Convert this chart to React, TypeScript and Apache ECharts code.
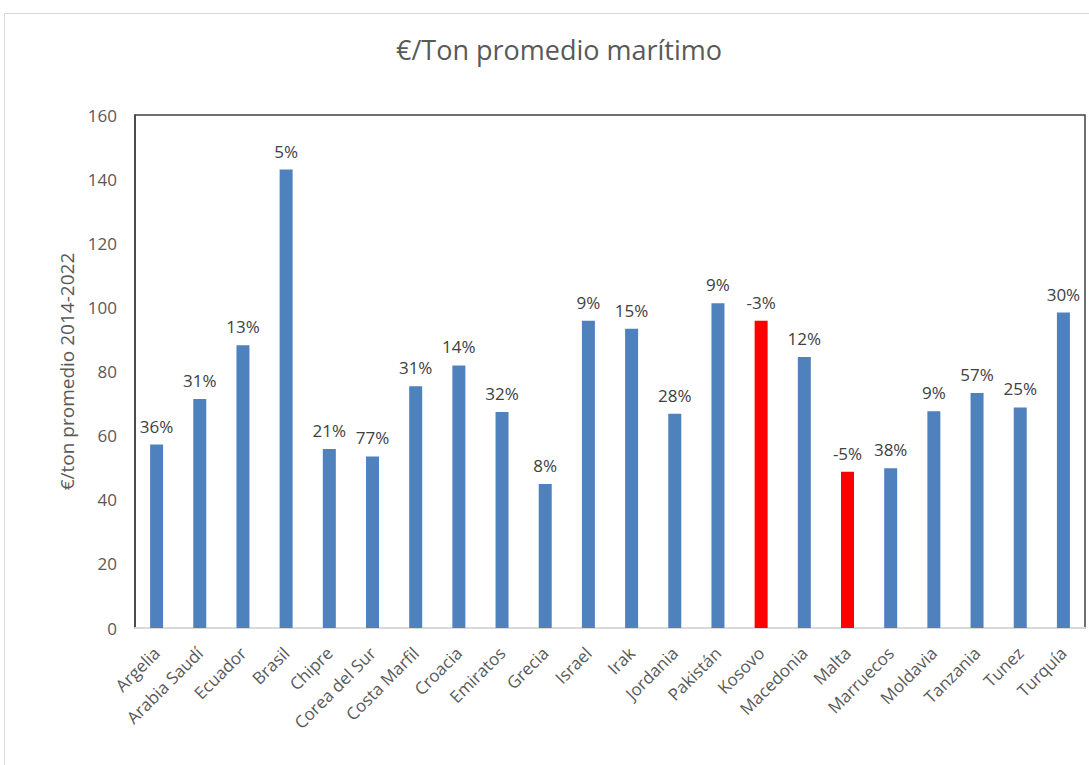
import React, { useEffect, useRef } from "react";
import * as echarts from "echarts";

const categories = [
  "Argelia", "Arabia Saudí", "Ecuador", "Brasil", "Chipre", "Corea del Sur",
  "Costa Marfil", "Croacia", "Emiratos", "Grecia", "Israel", "Irak",
  "Jordania", "Pakistán", "Kosovo", "Macedonia", "Malta", "Marruecos",
  "Moldavia", "Tanzania", "Tunez", "Turquía",
];
const values = [
  57.2, 71.4, 88.2, 143.0, 55.8, 53.5, 75.4, 81.9, 67.4, 44.9, 95.8, 93.3,
  66.8, 101.3, 95.8, 84.5, 48.7, 49.8, 67.6, 73.3, 68.8, 98.4,
];
const changeLabels = [
  "36%", "31%", "13%", "5%", "21%", "77%", "31%", "14%", "32%", "8%", "9%", "15%",
  "28%", "9%", "-3%", "12%", "-5%", "38%", "9%", "57%", "25%", "30%",
];
const highlighted = ["Kosovo", "Malta"];
const yTicks = { min: 0, max: 160, interval: 20 };

const FONT = "Open Sans";

export default function App() {
  const ref = useRef<HTMLDivElement>(null);
  useEffect(() => {
    document.body.style.margin = "0";
    const chart = echarts.init(ref.current!, undefined, { renderer: "svg" });
    chart.setOption({
      animation: false,
      backgroundColor: "#ffffff",
      textStyle: { fontFamily: FONT },
      title: {
        text: "€/Ton promedio marítimo",
        left: 554,
        top: 31,
        textAlign: "center",
        textStyle: { fontFamily: FONT, fontSize: 27, fontWeight: "normal", color: "#595959" },
      },
      graphic: [
        {
          type: "rect",
          shape: { x: 4.5, y: 13.5, width: 1200, height: 800 },
          style: { fill: "none", stroke: "#d9d9d9", lineWidth: 1 },
          silent: true,
          z: -1,
        },
      ],
      grid: {
        left: 135,
        right: 4,
        top: 115,
        bottom: 137,
        show: true,
        borderColor: "#404040",
        borderWidth: 1.5,
        backgroundColor: "transparent",
      },
      xAxis: {
        type: "category",
        data: categories,
        axisLine: { show: true, lineStyle: { color: "#d9d9d9", width: 2 } },
        axisTick: { show: false },
        axisLabel: {
          rotate: 45,
          interval: 0,
          margin: 22,
          fontFamily: FONT,
          fontSize: 17,
          color: "#595959",
        },
      },
      yAxis: {
        type: "value",
        min: yTicks.min,
        max: yTicks.max,
        interval: yTicks.interval,
        name: "€/ton promedio 2014-2022",
        nameLocation: "middle",
        nameGap: 56,
        nameTextStyle: { fontFamily: FONT, fontSize: 19, color: "#595959" },
        axisLine: { show: true, lineStyle: { color: "#404040", width: 1.5 } },
        axisTick: { show: false },
        splitLine: { show: false },
        axisLabel: { fontFamily: FONT, fontSize: 17, color: "#595959", margin: 18 },
      },
      series: [
        {
          type: "bar",
          barWidth: 13,
          data: values.map((v, i) => ({
            value: v,
            itemStyle: {
              color: highlighted.includes(categories[i]) ? "#ff0000" : "#4f81bd",
            },
            label: { formatter: changeLabels[i] },
          })),
          label: {
            show: true,
            position: "top",
            distance: 10,
            fontFamily: FONT,
            fontSize: 17,
            color: "#404040",
          },
        },
      ],
    });
    return () => chart.dispose();
  }, []);
  return <div ref={ref} style={{ width: 1089, height: 765 }} />;
}
